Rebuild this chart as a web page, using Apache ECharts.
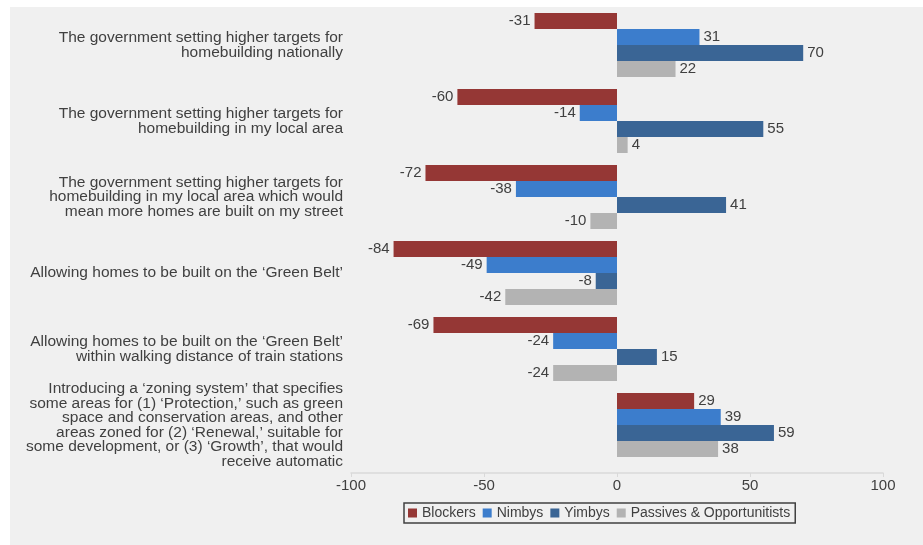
<!DOCTYPE html>
<html>
<head>
<meta charset="utf-8">
<script src="https://cdn.jsdelivr.net/npm/echarts@6/dist/echarts.min.js"></script>
<style>
  html, body { margin: 0; padding: 0; background: #ffffff; }
  #panel { position: absolute; left: 10px; top: 7px; width: 913px; height: 538px; background: #f0f0f0; }
  #main { position: absolute; left: 0; top: 0; width: 923px; height: 545px; }
</style>
</head>
<body>
<div id="panel"></div>
<div id="main"></div>
<script>
// categories (top to bottom)
var categories = [
  'The government setting higher targets for\nhomebuilding nationally',
  'The government setting higher targets for\nhomebuilding in my local area',
  'The government setting higher targets for\nhomebuilding in my local area which would\nmean more homes are built on my street',
  'Allowing homes to be built on the \u2018Green Belt\u2019',
  'Allowing homes to be built on the \u2018Green Belt\u2019\nwithin walking distance of train stations',
  'Introducing a \u2018zoning system\u2019 that specifies\nsome areas for (1) \u2018Protection,\u2019 such as green\nspace and conservation areas, and other\nareas zoned for (2) \u2018Renewal,\u2019 suitable for\nsome development, or (3) \u2018Growth\u2019, that would\nreceive automatic'
];

var seriesNames = ['Blockers', 'Nimbys', 'Yimbys', 'Passives & Opportunitists'];
var blockers = [-31, -60, -72, -84, -69, 29];
var nimbys = [31, -14, -38, -49, -24, 39];
var yimbys = [70, 55, 41, -8, 15, 59];
var passives = [22, 4, -10, -42, -24, 38];
var xTicks = [-100, -50, 0, 50, 100];

var colors = ['#953735', '#3c7dcc', '#3a6595', '#b3b3b3'];
var allValues = [blockers, nimbys, yimbys, passives];

var chart = echarts.init(document.getElementById('main'));

// label goes on the outer end of each bar
function withLabels(values) {
  return values.map(function (v) {
    return { value: v, label: { position: v < 0 ? 'left' : 'right' } };
  });
}

var series = seriesNames.map(function (name, i) {
  return {
    name: name,
    type: 'bar',
    data: withLabels(allValues[i]),
    barWidth: 16,
    barGap: '0%',
    itemStyle: { color: colors[i] },
    label: {
      show: true,
      distance: 4,
      color: '#404040',
      fontSize: 15
    }
  };
});

var option = {
  backgroundColor: 'transparent',
  animation: false,
  textStyle: { fontFamily: 'Liberation Sans, Arial, sans-serif' },
  grid: { left: 351, width: 532, top: 7, height: 456, containLabel: false },
  xAxis: {
    type: 'value',
    min: xTicks[0],
    max: xTicks[xTicks.length - 1],
    interval: 50,
    offset: 10,
    splitLine: { show: false },
    axisLine: { show: true, lineStyle: { color: '#d9d9d9', width: 1.5 } },
    axisTick: { show: true, length: 4, lineStyle: { color: '#d9d9d9' } },
    axisLabel: { color: '#404040', fontSize: 15, margin: 5 }
  },
  yAxis: {
    type: 'category',
    data: categories,
    inverse: true,
    axisLine: { show: false },
    axisTick: { show: false },
    axisLabel: {
      color: '#404040',
      fontSize: 15.5,
      lineHeight: 14.5,
      align: 'right',
      margin: 8
    }
  },
  legend: {
    data: seriesNames,
    left: 404,
    top: 503,
    itemWidth: 9,
    itemHeight: 9,
    itemGap: 7,
    padding: [3, 5, 3, 4],
    borderColor: '#404040',
    borderWidth: 1.5,
    icon: 'rect',
    textStyle: { color: '#404040', fontSize: 14 }
  },
  series: series
};

chart.setOption(option);
</script>
</body>
</html>
